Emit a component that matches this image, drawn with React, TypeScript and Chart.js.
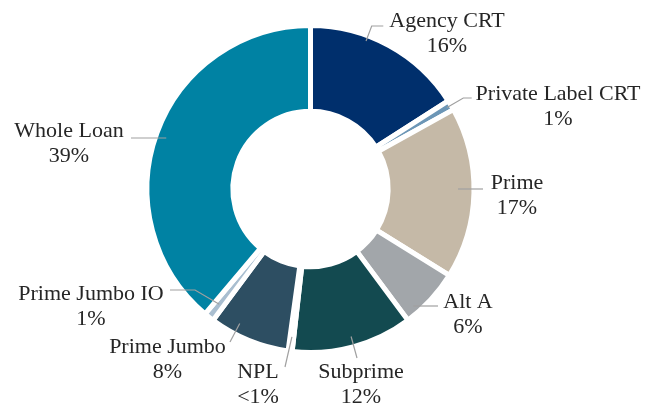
import React, { useEffect, useRef } from 'react';
import { Chart, registerables } from 'chart.js';

Chart.register(...registerables);

// ---- data ----
const categories = [
  'Agency CRT',
  'Private Label CRT',
  'Prime',
  'Alt A',
  'Subprime',
  'NPL',
  'Prime Jumbo',
  'Prime Jumbo IO',
  'Whole Loan',
];
const shares = [16, 1, 17, 6, 12, 0.4, 8, 1, 39];
const shareLabels = ['16%', '1%', '17%', '6%', '12%', '<1%', '8%', '1%', '39%'];

// ---- styles ----
const sliceColors = [
  '#002F6C',
  '#6C96B6',
  '#C5B9A7',
  '#A2A6AA',
  '#134A50',
  '#7A9CB0',
  '#2D4E62',
  '#A9BED0',
  '#0082A3',
];

// label placement relative to the doughnut centre (text baseline centre, leader end)
type LabelPlace = { tx: number; ty: number; ex: number; ey: number; r0: number; mode: 'h' | 'hook' | 'direct'; hook?: number };
const labelLayout: LabelPlace[] = [
  { tx: 136.5, ty: -162, ex: 72.8, ey: -163, r0: 158, mode: 'hook', hook: 11.6 },
  { tx: 247.5, ty: -89, ex: 161.2, ey: -91, r0: 159, mode: 'hook', hook: 8.4 },
  { tx: 206.5, ty: 0, ex: 172.5, ey: 0, r0: 147.5, mode: 'h' },
  { tx: 157.5, ty: 119, ex: 127.5, ey: 117, r0: 155.6, mode: 'h' },
  { tx: 50.5, ty: 189, ex: 46.5, ey: 169, r0: 153, mode: 'direct' },
  { tx: -52.5, ty: 189, ex: -25.5, ey: 178, r0: 149, mode: 'direct' },
  { tx: -143, ty: 164, ex: -80.5, ey: 153, r0: 152, mode: 'direct' },
  { tx: -219.5, ty: 111, ex: -140.5, ey: 101, r0: 147, mode: 'hook', hook: -25 },
  { tx: -241.5, ty: -52, ex: -179.5, ey: -51, r0: 153, mode: 'h' },
];

const LABEL_FONT = '22px "Liberation Serif", "Times New Roman", serif';
const LABEL_COLOR = '#262626';
const LINE_GAP = 25;
const LEADER_COLOR = '#A0A0A0';

const outsideLabels = {
  id: 'outsideLabels',
  afterDatasetsDraw(chart: any) {
    const meta = chart.getDatasetMeta(0);
    const ctx: CanvasRenderingContext2D = chart.ctx;
    ctx.save();
    meta.data.forEach((arc: any, i: number) => {
      const L = labelLayout[i];
      if (!L) return;
      const p = arc.getProps(['x', 'y', 'startAngle', 'endAngle'], true);
      const cx = p.x;
      const cy = p.y;
      const end = { x: cx + L.ex, y: cy + L.ey };
      let start: { x: number; y: number };
      if (L.mode === 'h') {
        const dx = Math.sqrt(Math.max(L.r0 * L.r0 - L.ey * L.ey, 0));
        start = { x: cx + Math.sign(L.ex) * dx, y: end.y };
      } else {
        const s = p.startAngle;
        const e = p.endAngle;
        const refX = L.mode === 'hook' ? L.ex - (L.hook || 0) : L.ex;
        let a = Math.atan2(L.ey, refX);
        while (a < s) a += Math.PI * 2;
        while (a >= s + Math.PI * 2) a -= Math.PI * 2;
        const pad = Math.min(0.08, (e - s) / 2);
        if (a > e) {
          a = a - e < s + Math.PI * 2 - a ? e - pad : s + pad;
        } else {
          a = Math.min(Math.max(a, s + pad), e - pad);
        }
        start = { x: cx + Math.cos(a) * L.r0, y: cy + Math.sin(a) * L.r0 };
      }
      ctx.beginPath();
      ctx.strokeStyle = LEADER_COLOR;
      ctx.lineWidth = 1.2;
      ctx.moveTo(start.x, start.y);
      if (L.mode === 'hook') {
        ctx.lineTo(end.x - (L.hook || 0), end.y);
      }
      ctx.lineTo(end.x, end.y);
      ctx.stroke();

      ctx.fillStyle = LABEL_COLOR;
      ctx.font = LABEL_FONT;
      ctx.textAlign = 'center';
      ctx.textBaseline = 'alphabetic';
      ctx.fillText(chart.data.labels[i], cx + L.tx, cy + L.ty);
      ctx.fillText(shareLabels[i], cx + L.tx, cy + L.ty + LINE_GAP);
    });
    ctx.restore();
  },
};

export default function App() {
  const ref = useRef<HTMLCanvasElement | null>(null);
  useEffect(() => {
    document.body.style.margin = '0';
    const canvas = ref.current;
    if (!canvas) return;
    const chart = new Chart(canvas, {
      type: 'doughnut',
      data: {
        labels: categories,
        datasets: [
          {
            data: shares,
            backgroundColor: sliceColors,
            borderColor: '#FFFFFF',
            borderWidth: 5,
          },
        ],
      },
      options: {
        responsive: false,
        animation: false,
        devicePixelRatio: 1,
        cutout: '47.5%',
        radius: 163.5,
        layout: { padding: { left: 0, right: 26, top: 0, bottom: 29 } },
        plugins: {
          legend: { display: false },
          tooltip: { enabled: false },
        },
      } as any,
      plugins: [outsideLabels],
    });
    return () => chart.destroy();
  }, []);
  return (
    <div style={{ position: 'absolute', left: 0, top: 0, width: 647, height: 407, background: '#FFFFFF' }}>
      <canvas ref={ref} width={647} height={407} style={{ width: 647, height: 407 }} />
    </div>
  );
}
